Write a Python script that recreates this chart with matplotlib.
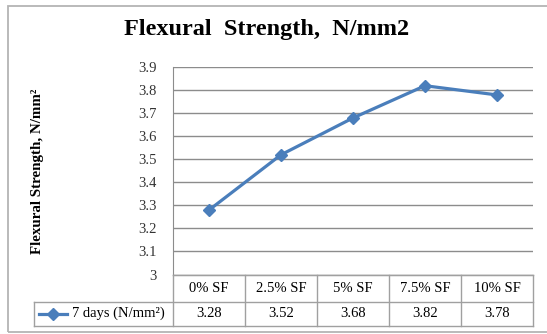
import numpy as np
import matplotlib
matplotlib.use("Agg")
import matplotlib.pyplot as plt
from matplotlib.ticker import MultipleLocator, FuncFormatter
from matplotlib.transforms import blended_transform_factory
from matplotlib.lines import Line2D
from matplotlib.patches import Rectangle

plt.rcParams['font.family'] = ['Liberation Serif', 'DejaVu Serif']

categories = ['0% SF', '2.5% SF', '5% SF', '7.5% SF', '10% SF']
strength_7d = [3.28, 3.52, 3.68, 3.82, 3.78]
series_name = '7 days (N/mm²)'
title = 'Flexural  Strength,  N/mm2'
ylabel = 'Flexural Strength, N/mm²'

W, H = 547, 334
line_col = '#4A7EBB'
grid_col = '#8c8c8c'
table_col = '#a0a0a0'

def fx(px):
    return px / W

def fy(py):
    return 1 - py / H

fig = plt.figure(figsize=(W / 100, H / 100), dpi=100)
fig.patch.set_facecolor('white')

# chart frame
fig.patches.append(Rectangle((fx(8), fy(331.5)), fx(560) - fx(8), fy(5.5) - fy(331.5),
                             transform=fig.transFigure, fill=False,
                             edgecolor='#b4b4b4', lw=1.3))

left, right, top, bottom = 173, 533, 67.3, 274.5
ax = fig.add_axes([fx(left), fy(bottom), fx(right) - fx(left), fy(top) - fy(bottom)])

x = np.arange(len(categories))
ax.plot(x, strength_7d, color=line_col, lw=2.3, marker='D', ms=6.5,
        markerfacecolor=line_col, markeredgecolor=line_col, zorder=3)

ax.set_xlim(-0.5, len(categories) - 0.5)
ax.set_ylim(3, 3.9)
ax.yaxis.set_major_locator(MultipleLocator(0.1))
ax.yaxis.set_major_formatter(FuncFormatter(lambda v, p: f'{v:.1f}'.rstrip('0').rstrip('.')))
ax.tick_params(axis='y', length=0, pad=11.5, labelsize=10.5, labelcolor='#333333')
ax.set_xticks([])
ax.grid(axis='y', color=grid_col, lw=1)
for s in ['top', 'right']:
    ax.spines[s].set_visible(False)
ax.spines['left'].set_color(grid_col)
ax.spines['bottom'].set_color(table_col)

fig.text(fx(267), fy(30), title, ha='center', va='center', fontsize=17.5, fontweight='bold')
fig.text(fx(37.5), fy(171), ylabel, ha='center', va='center', rotation=90,
         fontsize=10.8, fontweight='bold')

# data table under the plot
tr = blended_transform_factory(ax.transData, fig.transFigure)
row_top, row_mid, row_bot = bottom, 301.5, 326
key_left = 34
for xb in np.arange(len(categories) + 1) - 0.5:
    fig.lines.append(Line2D([xb, xb], [fy(row_top), fy(row_bot)], transform=tr,
                            color=table_col, lw=1))
fig.lines.append(Line2D([-0.5, len(categories) - 0.5], [fy(row_top)] * 2, transform=tr,
                        color=table_col, lw=1))
fig.lines.append(Line2D([fx(key_left), fx(right)], [fy(row_mid)] * 2,
                        transform=fig.transFigure, color=table_col, lw=1))
fig.lines.append(Line2D([fx(key_left), fx(right)], [fy(row_bot)] * 2,
                        transform=fig.transFigure, color=table_col, lw=1))
fig.lines.append(Line2D([fx(key_left)] * 2, [fy(row_mid), fy(row_bot)],
                        transform=fig.transFigure, color=table_col, lw=1))

for i, (cat, val) in enumerate(zip(categories, strength_7d)):
    fig.text(i, fy((row_top + row_mid) / 2), cat, transform=tr, ha='center', va='center',
             fontsize=10.5)
    fig.text(i, fy((row_mid + row_bot) / 2), f'{val:.2f}', transform=tr, ha='center',
             va='center', fontsize=10.5)

# legend key in the table
ky = fy((row_mid + row_bot) / 2)
fig.lines.append(Line2D([fx(39), fx(67)], [ky, ky], transform=fig.transFigure,
                        color=line_col, lw=2.3))
fig.lines.append(Line2D([fx(53)], [ky], transform=fig.transFigure, color=line_col,
                        marker='D', ms=6.5, lw=0))
fig.text(fx(71.5), ky, series_name, ha='left', va='center', fontsize=10.5)

fig.savefig('out.png', dpi=100)
